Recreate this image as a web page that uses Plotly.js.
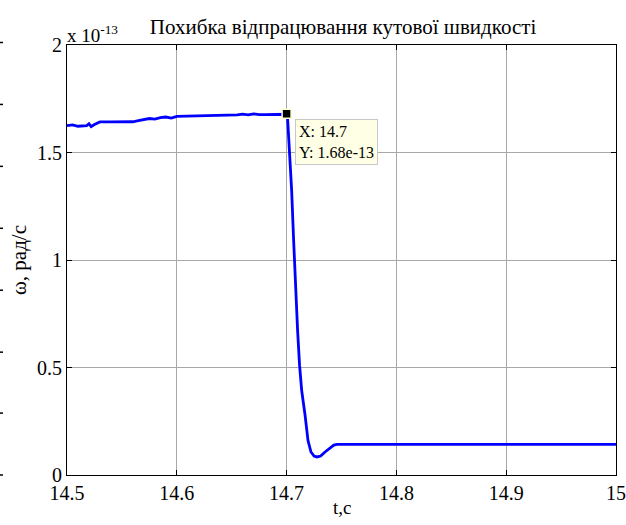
<!DOCTYPE html>
<html>
<head>
<meta charset="utf-8">
<script src="https://cdn.plot.ly/plotly-3.0.1.min.js"></script>
<style>html,body{margin:0;padding:0;background:#fff;}#chart{width:626px;height:525px;}</style>
</head>
<body>
<div id="chart"></div>
<script>
// time, s
const tValues = [14.500, 14.505, 14.510, 14.515, 14.518, 14.520, 14.522, 14.525, 14.530, 14.540, 14.550, 14.560,
  14.565, 14.570, 14.575, 14.580, 14.585, 14.590, 14.595, 14.600, 14.620, 14.640, 14.655, 14.660, 14.665,
  14.670, 14.675, 14.680, 14.700, 14.7009, 14.7027, 14.7046, 14.7064, 14.7082, 14.7100, 14.7118, 14.7137,
  14.7168, 14.7195, 14.7222, 14.7250, 14.7277, 14.7310, 14.7350, 14.7395, 14.7430, 14.7460, 14.800, 14.900, 15.000];
// angular velocity error, x 1e-13 rad/s
const wValues = [1.625, 1.628, 1.622, 1.622, 1.625, 1.634, 1.620, 1.630, 1.642, 1.642, 1.642, 1.643,
  1.648, 1.652, 1.658, 1.655, 1.662, 1.665, 1.660, 1.668, 1.670, 1.670, 1.675, 1.678, 1.675,
  1.680, 1.676, 1.676, 1.678, 1.659, 1.510, 1.324, 1.092, 0.859, 0.674, 0.511, 0.395,
  0.279, 0.160, 0.107, 0.088, 0.084, 0.088, 0.107, 0.125, 0.139, 0.142, 0.142, 0.142, 0.142];
const tipX = [14.7];
const tipY = [1.68];
const xTicks = [14.5, 14.6, 14.7, 14.8, 14.9, 15];
const xTickText = ['14.5', '14.6', '14.7', '14.8', '14.9', '15'];
const yTicks = [0, 0.5, 1, 1.5, 2];
const yTickText = ['0', '0.5', '1', '1.5', '2'];
const leftDashY = [42, 104, 166, 228, 290, 352, 413, 475];

const serif = '"Liberation Serif", "Times New Roman", "DejaVu Serif", serif';

const traces = [
  {x: tValues, y: wValues, type: 'scatter', mode: 'lines',
   line: {color: '#0000ff', width: 2.8}, hoverinfo: 'skip'},
  {x: tipX, y: tipY, type: 'scatter', mode: 'markers',
   marker: {symbol: 'square', size: 9, color: '#000000', line: {color: '#ffffcc', width: 1.5}}, hoverinfo: 'skip'}
];

const plotTop = 44.5, plotBottom = 475, plotH = plotBottom - plotTop;
const shapes = leftDashY.map(py => ({
  type: 'line', xref: 'paper', yref: 'paper',
  x0: (0 - 67) / 549, x1: (3 - 67) / 549,
  y0: (plotBottom - py) / plotH, y1: (plotBottom - py) / plotH,
  line: {color: '#000', width: 1.5}
}));

const layout = {
  width: 626, height: 525,
  margin: {l: 67, r: 10, t: 44.5, b: 50},
  paper_bgcolor: '#ffffff', plot_bgcolor: '#ffffff',
  showlegend: false,
  font: {family: serif, color: '#000', size: 18},
  title: {text: 'Похибка відпрацювання кутової швидкості', font: {family: serif, size: 21, color: '#000'},
          x: 0.548, xanchor: 'center', y: 0.95, yanchor: 'middle', yref: 'container'},
  xaxis: {range: [14.5, 15], tickvals: xTicks, ticktext: xTickText,
          showgrid: true, gridcolor: '#a8a8a8', gridwidth: 1, zeroline: false,
          showline: true, linecolor: '#000', linewidth: 1, mirror: 'allticks',
          ticks: 'inside', ticklen: 5, tickcolor: '#000', tickfont: {family: serif, size: 20}},
  yaxis: {range: [0, 2], tickvals: yTicks, ticktext: yTickText,
          showgrid: true, gridcolor: '#a8a8a8', gridwidth: 1, zeroline: false,
          showline: true, linecolor: '#000', linewidth: 1, mirror: 'allticks',
          ticks: 'inside', ticklen: 5, tickcolor: '#000', tickfont: {family: serif, size: 20},
          title: {text: 'ω, рад/с', font: {family: serif, size: 21}, standoff: 4}},
  shapes: shapes,
  annotations: [
    {xref: 'paper', yref: 'paper', x: 0.5, y: (plotBottom - 508) / plotH, xanchor: 'center', yanchor: 'middle',
     showarrow: false, text: 't,c', font: {family: serif, size: 19}},
    {xref: 'paper', yref: 'paper', x: 0, y: 1, xanchor: 'left', yanchor: 'bottom', showarrow: false,
     text: 'x 10<sup>-13</sup>', font: {family: serif, size: 19}, xshift: -2, yshift: -3},
    {xref: 'x', yref: 'y', x: tipX[0], y: tipY[0], xanchor: 'left', yanchor: 'top', showarrow: false,
     xshift: 8, yshift: -5, align: 'left',
     text: 'X: 14.7<br>Y: 1.68e-13', font: {family: serif, size: 16, color: '#000'},
     bgcolor: '#ffffe6', bordercolor: '#c8c8c8', borderwidth: 1, borderpad: 3}
  ]
};

Plotly.newPlot('chart', traces, layout, {displayModeBar: false, staticPlot: true});
</script>
</body>
</html>
